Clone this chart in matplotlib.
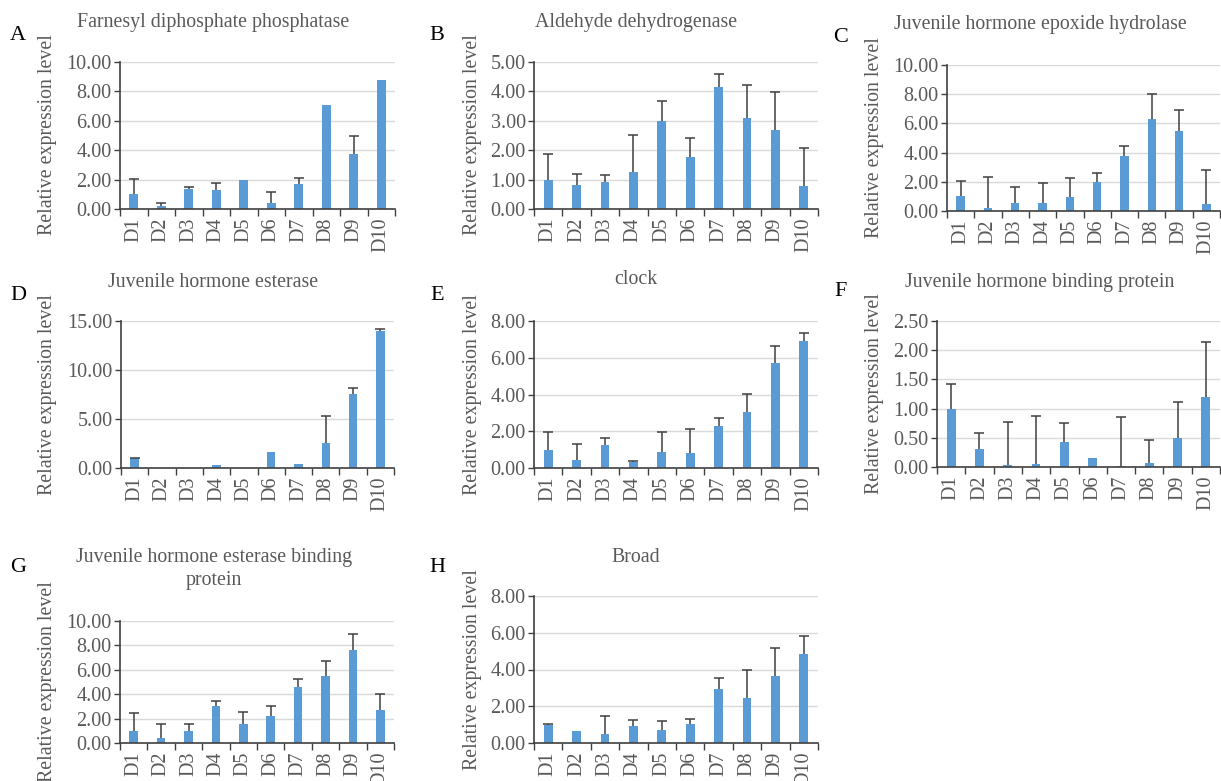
import matplotlib
matplotlib.use('Agg')
import matplotlib.pyplot as plt
import numpy as np

plt.rcParams['font.family'] = ['Liberation Serif', 'DejaVu Serif']

days = ['D1', 'D2', 'D3', 'D4', 'D5', 'D6', 'D7', 'D8', 'D9', 'D10']

# mean relative expression and upper error per gene
fpp_mean = [1.00, 0.23, 1.36, 1.27, 1.98, 0.39, 1.73, 7.09, 3.73, 8.75]
fpp_err = [1.05, 0.18, 0.12, 0.53, 0.00, 0.79, 0.36, 0.00, 1.25, 0.00]

ald_mean = [0.99, 0.82, 0.91, 1.25, 3.01, 1.76, 4.15, 3.11, 2.70, 0.77]
ald_err = [0.88, 0.38, 0.23, 1.28, 0.66, 0.66, 0.45, 1.11, 1.28, 1.30]

jheh_mean = [1.00, 0.18, 0.52, 0.57, 0.96, 2.00, 3.76, 6.33, 5.49, 0.46]
jheh_err = [1.07, 2.14, 1.10, 1.34, 1.30, 0.62, 0.66, 1.69, 1.41, 2.32]

jhe_mean = [1.02, 0.00, 0.00, 0.31, 0.00, 1.67, 0.38, 2.59, 7.53, 14.00]
jhe_err = [0.05, 0.00, 0.00, 0.00, 0.00, 0.00, 0.00, 2.73, 0.62, 0.18]

clock_mean = [1.00, 0.45, 1.24, 0.35, 0.87, 0.84, 2.27, 3.05, 5.69, 6.93]
clock_err = [0.98, 0.88, 0.40, 0.02, 1.11, 1.27, 0.46, 1.00, 0.96, 0.43]

jhbp_mean = [1.00, 0.31, 0.03, 0.05, 0.43, 0.16, 0.02, 0.06, 0.50, 1.20]
jhbp_err = [0.42, 0.27, 0.74, 0.82, 0.32, 0.00, 0.83, 0.40, 0.62, 0.94]

jhebp_mean = [0.98, 0.41, 0.98, 3.00, 1.53, 2.21, 4.62, 5.46, 7.62, 2.70]
jhebp_err = [1.45, 1.12, 0.60, 0.47, 1.01, 0.79, 0.65, 1.26, 1.28, 1.29]

broad_mean = [1.00, 0.64, 0.47, 0.91, 0.69, 1.02, 2.95, 2.47, 3.62, 4.85]
broad_err = [0.02, 0.00, 1.00, 0.36, 0.53, 0.31, 0.60, 1.48, 1.53, 0.95]

W, H = 1221, 781
BAR = '#5B9BD5'
TXT = '#595959'
AXC = '#404040'

# letter, title, mean, err, ymax, ystep, axes box (left, right, top, bottom) in px,
# title pos, letter pos, ylabel pos
panels = [
    ('A', 'Farnesyl diphosphate phosphatase', fpp_mean, fpp_err, 10, 2,
     (120, 395, 62, 209), (213, 23), (18, 35), (48, 135)),
    ('B', 'Aldehyde dehydrogenase', ald_mean, ald_err, 5, 1,
     (534, 818, 62, 209), (636, 23), (437, 35), (473, 135)),
    ('C', 'Juvenile hormone epoxide hydrolase', jheh_mean, jheh_err, 10, 2,
     (947, 1220, 65, 211), (1040, 25), (841, 37), (875, 138)),
    ('D', 'Juvenile hormone esterase', jhe_mean, jhe_err, 15, 5,
     (121, 394, 321, 468), (213, 282), (18, 296), (48, 395)),
    ('E', 'clock', clock_mean, clock_err, 8, 2,
     (534, 818, 321, 468), (636, 280), (437, 296), (473, 395)),
    ('F', 'Juvenile hormone binding protein', jhbp_mean, jhbp_err, 2.5, 0.5,
     (937, 1220, 321, 467), (1040, 282), (841, 292), (875, 394)),
    ('G', 'Juvenile hormone esterase binding\nprotein', jhebp_mean, jhebp_err, 10, 2,
     (120, 394, 621, 743), (214, 569), (18, 568), (48, 682)),
    ('H', 'Broad', broad_mean, broad_err, 8, 2,
     (534, 818, 596, 743), (636, 557), (437, 568), (473, 670)),
]

fig = plt.figure(figsize=(W / 100, H / 100), dpi=100)

for letter, title, mean, err, ymax, ystep, box, tpos, lpos, ypos in panels:
    left, right, top, bottom = box
    ax = fig.add_axes([left / W, 1 - bottom / H, (right - left) / W, (bottom - top) / H])
    x = np.arange(len(days))
    mean = np.array(mean)
    err = np.array(err)
    ax.bar(x, mean, width=0.31, color=BAR, zorder=2)

    # upper error bars only (Excel style)
    has = err > 0
    tops = mean[has] + err[has]
    ax.vlines(x[has], mean[has], tops, color=AXC, lw=1.1, zorder=3)
    ax.plot(x[has], tops, ls='none', marker='_', ms=7, mew=1.1, color=AXC, zorder=3)

    ax.set_xlim(-0.5, len(days) - 0.5)
    ax.set_ylim(0, ymax)
    yt = np.arange(0, ymax + ystep / 2, ystep)
    ax.set_yticks(yt)
    ax.set_yticklabels(['%.2f' % v for v in yt])
    ax.yaxis.grid(True, color='#D9D9D9', lw=1, zorder=0)
    ax.set_axisbelow(True)

    ax.set_xticks(x)
    ax.set_xticklabels(days, rotation=90)
    ax.set_xticks(np.arange(-0.5, len(days), 1), minor=True)
    ax.tick_params(axis='x', which='major', length=0, pad=6, labelsize=14.5, labelcolor=TXT)
    ax.tick_params(axis='x', which='minor', length=5, width=1, color=AXC, direction='out')
    ax.tick_params(axis='y', length=4, width=1, color=AXC, pad=2, labelsize=14.5, labelcolor=TXT)

    for s in ['top', 'right']:
        ax.spines[s].set_visible(False)
    for s in ['left', 'bottom']:
        ax.spines[s].set_color(AXC)
        ax.spines[s].set_linewidth(1.2)

    fig.text(tpos[0] / W, 1 - tpos[1] / H, title, ha='center', va='center',
             fontsize=14.3, color=TXT, linespacing=1.25)
    fig.text(lpos[0] / W, 1 - lpos[1] / H, letter, ha='center', va='center', fontsize=16, color='black')
    fig.text(ypos[0] / W, 1 - ypos[1] / H, 'Relative expression level', ha='center', va='center',
             rotation=90, fontsize=14.3, color=TXT)

fig.savefig('out.png', dpi=100)
